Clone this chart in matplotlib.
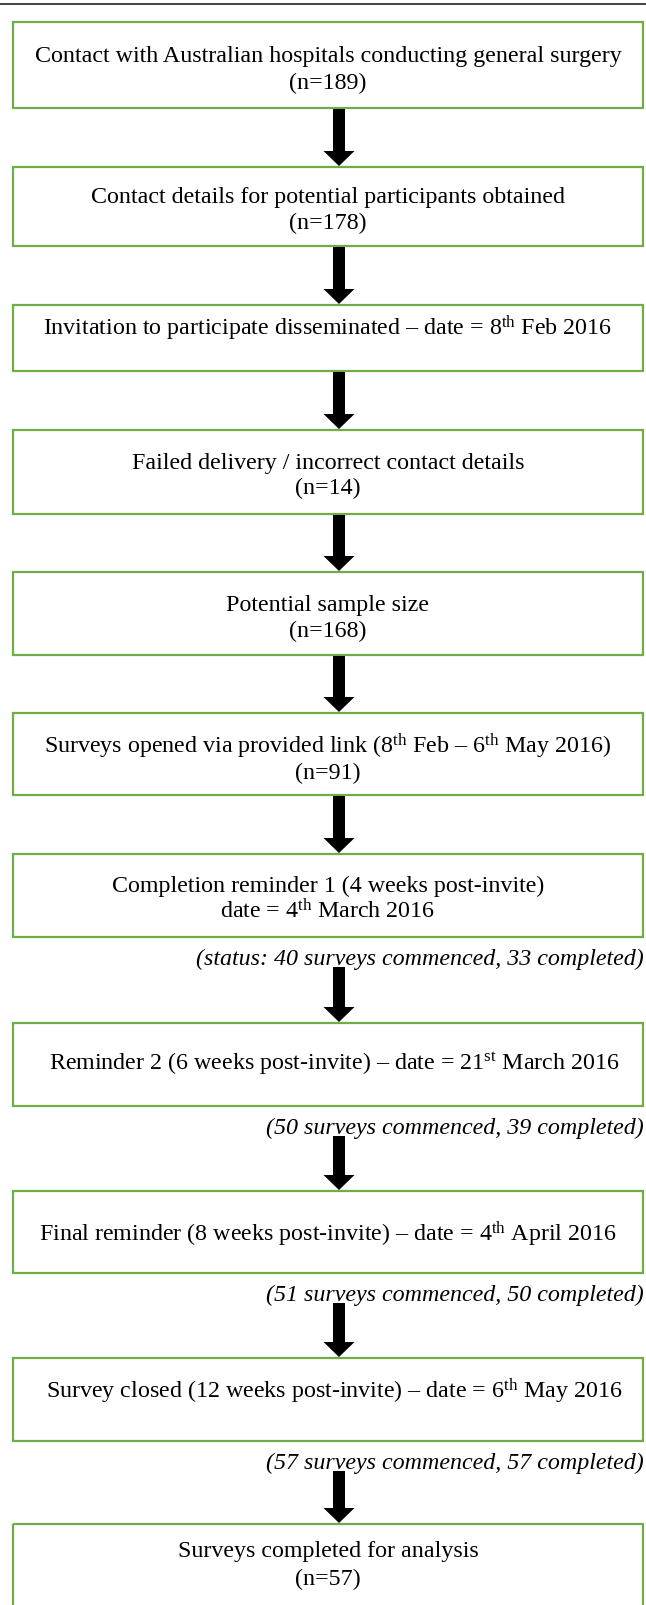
import matplotlib
matplotlib.use("Agg")
import matplotlib.pyplot as plt
from matplotlib.patches import Rectangle, FancyArrow

# ---------------- data ----------------
step_lines = [
    ["Contact with Australian hospitals conducting general surgery", "(n=189)"],
    ["Contact details for potential participants obtained", "(n=178)"],
    [r"Invitation to participate disseminated – date = 8$^{\mathrm{th}}$ Feb 2016"],
    ["Failed delivery / incorrect contact details", "(n=14)"],
    ["Potential sample size", "(n=168)"],
    [r"Surveys opened via provided link (8$^{\mathrm{th}}$ Feb – 6$^{\mathrm{th}}$ May 2016)", "(n=91)"],
    ["Completion reminder 1 (4 weeks post-invite)", r"date = 4$^{\mathrm{th}}$ March 2016"],
    [r"  Reminder 2 (6 weeks post-invite) – date = 21$^{\mathrm{st}}$ March 2016"],
    [r"Final reminder (8 weeks post-invite) – date = 4$^{\mathrm{th}}$ April 2016"],
    [r"  Survey closed (12 weeks post-invite) – date = 6$^{\mathrm{th}}$ May 2016"],
    ["Surveys completed for analysis", "(n=57)"],
]
status_after_step = [6, 7, 8, 9]
status_prefix = ["status: ", "", "", ""]
surveys_commenced = [40, 50, 51, 57]
surveys_completed = [33, 39, 50, 57]

# ---------------- layout (pixels) ----------------
W, H = 646, 1606
box_top = [23, 168, 306, 431, 573, 714, 855, 1024, 1192, 1359, 1525]
box_bot = [109, 247, 372, 515, 656, 796, 938, 1107, 1274, 1442, 1640]
text_y = [[54, 81], [195, 221], [327], [461, 486], [603, 629], [745, 771],
          [884, 910], [1062], [1233], [1390], [1549, 1577]]
box_left, box_right = 12.5, 643
text_x = 328
arrow_x = 339
green = "#70AD47"

plt.rcParams["mathtext.fontset"] = "custom"
plt.rcParams["mathtext.rm"] = "Liberation Serif"
plt.rcParams["mathtext.it"] = "Liberation Serif:italic"

fig = plt.figure(figsize=(W / 100, H / 100), dpi=100)
ax = fig.add_axes([0, 0, 1, 1])
ax.set_xlim(0, W)
ax.set_ylim(H, 0)
ax.axis("off")

fs = 17.3

# top rule
ax.plot([0, W], [5, 5], color="#333333", lw=1.3, solid_capstyle="butt")

for i, lines in enumerate(step_lines):
    ax.add_patch(Rectangle((box_left, box_top[i]), box_right - box_left,
                           box_bot[i] - box_top[i], fill=False,
                           edgecolor=green, lw=1.6))
    for line, yc in zip(lines, text_y[i]):
        ax.text(text_x, yc + 8, line, ha="center", va="baseline",
                fontsize=fs, family="Liberation Serif", color="black")

status_map = {}
for k, idx in enumerate(status_after_step):
    txt = f"({status_prefix[k]}{surveys_commenced[k]} surveys commenced, {surveys_completed[k]} completed)"
    yc = box_bot[idx] + 19
    ax.text(box_right + 1, yc + 8, txt, ha="right", va="baseline",
            fontsize=fs, family="Liberation Serif", style="italic", color="black")
    status_map[idx] = yc

for i in range(len(step_lines) - 1):
    y0 = box_bot[i] + 1
    if i in status_map:
        y0 = status_map[i] + 11
    y1 = box_top[i + 1] - 1
    ax.add_patch(FancyArrow(arrow_x, y0, 0, y1 - y0, width=12, head_width=31,
                            head_length=15, length_includes_head=True,
                            color="black", lw=0))

fig.savefig("out.png", dpi=100, facecolor="white")
